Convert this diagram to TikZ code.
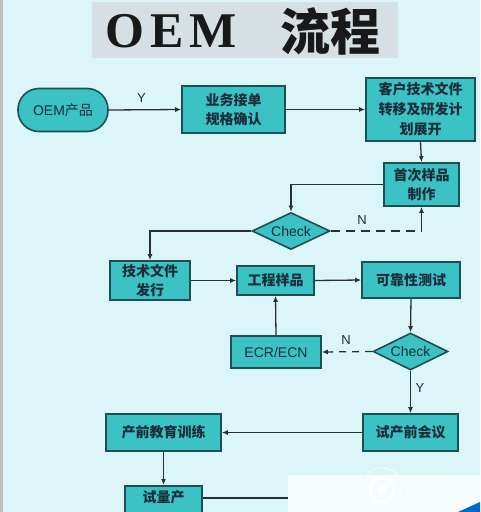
\documentclass[tikz,border=0pt]{standalone}
\usepackage{fontspec}
\setmainfont{Liberation Sans}
\newfontfamily\serifb{Liberation Serif}
\newfontfamily\cjk{Noto Sans CJK SC}
\usetikzlibrary{shapes.geometric,arrows.meta,calc}
\definecolor{bgc}{HTML}{DCF5F8}
\definecolor{boxfill}{HTML}{3AC2C4}
\definecolor{boxline}{HTML}{1E4F52}
\definecolor{txt}{HTML}{1B2D3A}
\definecolor{lnc}{HTML}{2A2F33}
\definecolor{titlebg}{HTML}{D6DFE3}
\tikzset{
  box/.style={draw=boxline, line width=1.6pt, fill=boxfill, text=txt, inner sep=1pt,
    align=center, font=\cjk\bfseries\fontsize{14}{19}\selectfont},
  term/.style={box, rounded corners=21pt, font=\fontsize{14}{17}\selectfont},
  chk/.style={draw=boxline, line width=1.6pt, fill=boxfill, text=txt, shape=diamond,
    aspect=2, inner sep=0pt, font=\fontsize{14}{17}\selectfont},
  conn/.style={draw=lnc, line width=1.3pt, -{Latex[length=6pt,width=5pt]}},
  plain/.style={draw=lnc, line width=1.3pt},
  dline/.style={plain, dash pattern=on 9pt off 6pt},
  lbl/.style={text=txt, font=\fontsize{13}{15}\selectfont, inner sep=0pt}
}
\begin{document}
\begin{tikzpicture}[x=1pt,y=-1pt]
\useasboundingbox (0,0) rectangle (480,512);
\clip (0,0) rectangle (480,512);
\fill[bgc] (0,0) rectangle (480,512);
\fill[color=black!25] (0,0) rectangle (2.5,512);
% title
\fill[titlebg] (92,2) rectangle (398,58);
\node[font=\serifb\bfseries\fontsize{50}{50}\selectfont\addfontfeature{LetterSpace=12}, text=black!90, inner sep=0pt] (t1) at (171,31) {OEM};
\node[font=\cjk\bfseries\fontsize{50}{50}\selectfont, text=black!90, inner sep=0pt] (t2) at (330,31) {流程};
% nodes
\node[term, minimum width=90pt, minimum height=43pt] (oem) at (63,110) {OEM{\cjk 产品}};
\node[box, minimum width=103pt, minimum height=47pt] (yw) at (233.5,109.5) {业务接单\\规格确认};
\node[box, minimum width=109pt, minimum height=63pt, font=\cjk\bfseries\fontsize{14}{20}\selectfont] (kh) at (420.5,109.5) {客户技术文件\\转移及研发计\\划展开};
\node[box, minimum width=75pt, minimum height=43pt] (sc) at (421.5,184.5) {首次样品\\制作};
\node[chk, minimum width=78pt, minimum height=37pt] (ck1) at (291,231) {Check};
\node[box, minimum width=80pt, minimum height=39pt] (js) at (150,280.5) {技术文件\\发行};
\node[box, minimum width=77pt, minimum height=29pt] (gc) at (275.5,280.5) {工程样品};
\node[box, minimum width=98pt, minimum height=36pt] (kk) at (411,280) {可靠性测试};
\node[box, minimum width=90pt, minimum height=32pt, font=\fontsize{14}{17}\selectfont] (ecr) at (276,352) {ECR/ECN};
\node[chk, minimum width=75pt, minimum height=37pt] (ck2) at (410.5,351.5) {Check};
\node[box, minimum width=95pt, minimum height=37pt] (sq) at (410.5,432.5) {试产前会议};
\node[box, minimum width=115pt, minimum height=37pt] (cq) at (163.5,432.5) {产前教育训练};
\node[box, minimum width=77pt, minimum height=40pt, anchor=north] (sl) at (163.5,485) {};
\node[text=txt, font=\cjk\bfseries\fontsize{14}{17}\selectfont, inner sep=0pt] (slt) at (163.5,497) {试量产};
% connectors
\draw[conn] (oem.east) -- node[lbl, above=7pt, pos=0.45] {Y} (yw.west);
\draw[conn] (yw.east) -- (kh.west);
\draw[conn] (kh.south) -- (sc.north);
\draw[conn] (sc.west) -| (ck1.north);
\coordinate (c1) at (sc.south |- ck1.east);
\draw[dline] (ck1.east) -- (c1);
\draw[conn] (c1) -- (sc.south);
\node[lbl] (n1) at (362,220) {N};
\draw[conn] (ck1.west) -| (js.north);
\draw[conn] (js.east) -- (gc.west);
\draw[conn] (gc.east) -- (kk.west);
\draw[conn] (kk.south) -- (ck2.north);
\draw[conn, dash pattern=on 7pt off 6pt] (ck2.west) -- (ecr.east);
\node[lbl] (n2) at (346,340) {N};
\draw[conn] (ecr.north) -- (gc.south);
\draw[conn] (ck2.south) -- (sq.north);
\node[lbl] (y2) at (420,388) {Y};
\draw[conn] (sq.west) -- (cq.east);
\draw[conn] (cq.south) -- (sl.north);
\coordinate (slend) at (290,498);
\draw[plain] (sl.east |- slend) -- (slend);
% overlay patch
\fill[color=white!75!bgc] (288,475) rectangle (480,512);
\draw[color=white, line width=1.5pt] (382,490) circle (12pt);
\draw[color=white!60!bgc, line width=1pt] (382,490) circle (22pt);
\fill[color=white] (382,490) circle (4pt);
\fill[color=blue!50!cyan!80!black] (458,512) -- (480,502) -- (480,512) -- cycle;
\end{tikzpicture}
\end{document}
